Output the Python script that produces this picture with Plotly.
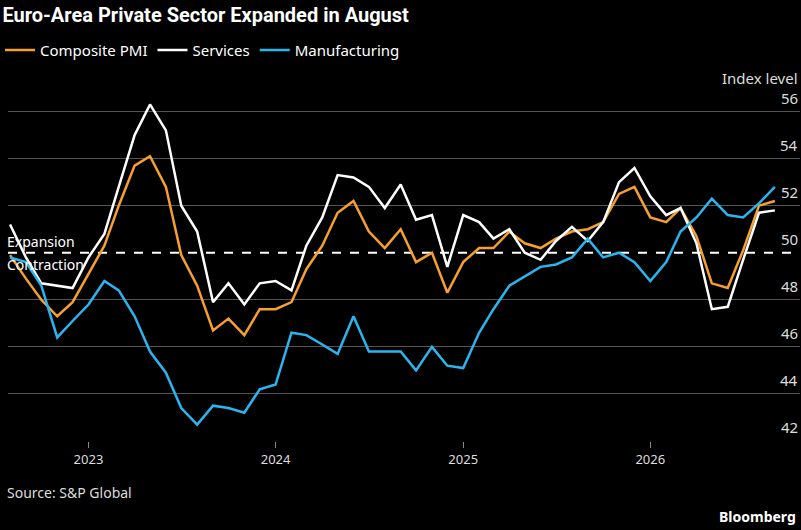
import pandas as pd
import plotly.graph_objects as go

# Dados mensais (ago/2022 - set/2026)
months = pd.date_range("2022-08-01", periods=50, freq="MS")

composite = [49.9, 48.9, 48.0, 47.3, 47.9, 49.1, 50.3, 52.0, 53.7, 54.1,
             52.8, 49.9, 48.6, 46.7, 47.2, 46.5, 47.6, 47.6, 47.9, 49.3,
             50.3, 51.7, 52.2, 50.9, 50.2, 51.0, 49.6, 50.0, 48.3, 49.6,
             50.2, 50.2, 50.9, 50.4, 50.2, 50.6, 50.9, 51.0, 51.3, 52.5,
             52.8, 51.5, 51.3, 51.9, 50.7, 48.7, 48.5, 50.1, 52.0, 52.2]

services = [51.2, 49.8, 48.7, 48.6, 48.5, 49.8, 50.8, 52.8, 55.0, 56.3,
            55.2, 52.0, 50.9, 47.9, 48.7, 47.8, 48.7, 48.8, 48.4, 50.3,
            51.5, 53.3, 53.2, 52.8, 51.9, 52.9, 51.4, 51.6, 49.4, 51.6,
            51.3, 50.6, 51.0, 50.0, 49.7, 50.5, 51.1, 50.5, 51.3, 53.0,
            53.6, 52.4, 51.6, 51.9, 50.4, 47.6, 47.7, 49.7, 51.7, 51.8]

manufacturing = [49.8, 49.6, 48.6, 46.4, 47.1, 47.8, 48.8, 48.4, 47.3, 45.8,
                 44.9, 43.4, 42.7, 43.5, 43.4, 43.2, 44.2, 44.4, 46.6, 46.5,
                 46.1, 45.7, 47.3, 45.8, 45.8, 45.8, 45.0, 46.0, 45.2, 45.1,
                 46.6, 47.6, 48.6, 49.0, 49.4, 49.5, 49.8, 50.6, 49.8, 50.0,
                 49.6, 48.8, 49.6, 50.9, 51.5, 52.3, 51.6, 51.5, 52.1, 52.8]

year_ticks = ["2023-01-01", "2024-01-01", "2025-01-01", "2026-01-01"]
year_labels = ["2023", "2024", "2025", "2026"]
y_ticks = [42, 44, 46, 48, 50, 52, 54, 56]

FONT = "Noto Sans"

fig = go.Figure()
fig.add_hline(y=50, line=dict(color="white", width=2, dash="dash"), layer="below")

for name, vals, color in [("Composite PMI", composite, "#f7a02b"),
                          ("Services", services, "#ffffff"),
                          ("Manufacturing", manufacturing, "#29b6f0")]:
    fig.add_trace(go.Scatter(x=months, y=vals, name=name, mode="lines",
                             line=dict(color=color, width=2.5)))

fig.update_layout(
    width=801, height=530,
    paper_bgcolor="black", plot_bgcolor="black",
    margin=dict(l=8, r=1, t=88, b=89, autoexpand=False),
    font=dict(family=FONT, color="white", size=15),
    title=dict(text="<b>Euro-Area Private Sector Expanded in August</b>",
               x=0.003, xanchor="left", y=0.972, yanchor="middle",
               font=dict(family="Roboto", size=20, color="white")),
    showlegend=True,
    legend=dict(orientation="h", x=-0.014, y=0.905, xref="container", yref="container",
                xanchor="left", yanchor="middle",
                font=dict(size=15, color="white"), itemwidth=30, bgcolor="rgba(0,0,0,0)"),
    xaxis=dict(range=["2022-07-28", "2026-10-20"], tickvals=year_ticks, ticktext=year_labels,
               showgrid=False, zeroline=False, ticks="outside", ticklen=6,
               tickcolor="#888", showline=False, tickfont=dict(size=13, color="#ddd")),
    yaxis=dict(range=[42, 57], side="right", tickvals=[42, 44, 46, 48, 52, 54, 56],
               showticklabels=False, gridcolor="#555", gridwidth=1, zeroline=False),
)

for v in y_ticks:
    fig.add_annotation(text=str(v), x=1, y=v, xref="paper", yref="y", xanchor="right",
                       yanchor="bottom", yshift=2, showarrow=False,
                       font=dict(size=15, color="#ddd"))
fig.add_annotation(text="Index level", x=1, y=57, xref="paper", yref="y", xanchor="right",
                   yanchor="bottom", yshift=-2, showarrow=False, font=dict(size=15, color="#ddd"))
fig.add_annotation(text="Expansion", x=-0.004, y=50, xref="paper", yref="y", xanchor="left",
                   yanchor="bottom", showarrow=False, font=dict(size=14, color="white"))
fig.add_annotation(text="Contraction", x=-0.004, y=50, xref="paper", yref="y", xanchor="left",
                   yanchor="top", showarrow=False, font=dict(size=14, color="white"))
fig.add_annotation(text="Source: S&P Global", x=-0.004, y=-0.145, xref="paper", yref="paper",
                   xanchor="left", yanchor="middle", showarrow=False,
                   font=dict(size=14, color="#ddd"))
fig.add_annotation(text="<b>Bloomberg</b>", x=0.998, y=-0.215, xref="paper", yref="paper",
                   xanchor="right", yanchor="middle", showarrow=False,
                   font=dict(size=14, color="white"))

# sem margem do body, para caber exatamente na janela
fig.write_html("out.html", config={"displayModeBar": False},
               post_script="document.body.style.margin='0';")
